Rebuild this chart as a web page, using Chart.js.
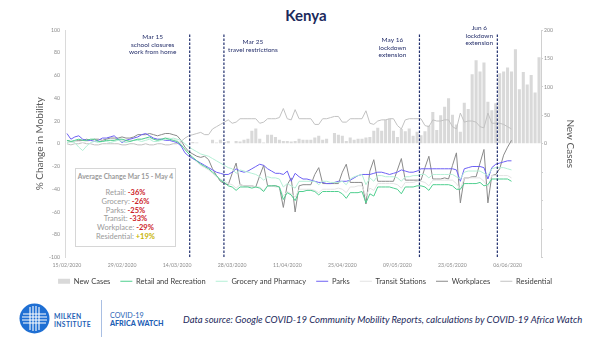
<!DOCTYPE html>
<html>
<head>
<meta charset="utf-8">
<script src="https://cdn.jsdelivr.net/npm/chart.js@4.4.0/dist/chart.umd.min.js"></script>
<style>
  body { margin: 0; background: #fff; font-family: Lato, sans-serif; }
  #wrap { position: relative; width: 600px; height: 337px; overflow: hidden; background: #fff; }
  #chart { position: absolute; left: 0; top: 0; }
  #title { position: absolute; left: 206px; top: 6px; width: 200px; text-align: center;
    font: bold 15px Lato; color: #1c2a5c; }
  #avgBox { position: absolute; left: 75px; top: 168px; width: 99px; height: 77px;
    border: 1px solid #d6d6d6; background: #fff; text-align: center; color: #9a9a9a; }
  #avgBox .head { font: bold 6.7px Lato; margin-top: 3px; margin-bottom: 9px; }
  #avgBox .row { font: 7.5px Lato; line-height: 8.8px; }
  #avgBox .row b { color: #cc2229; }
  #avgBox .row b.pos { color: #c6b300; }
  .ft { position: absolute; white-space: nowrap; }
  #logo { left: 19px; top: 303px; }
  #milken { left: 54px; top: 313px; font: bold 6.8px Lato; color: #1f5fb5; line-height: 7.5px; letter-spacing: 0.3px; }
  #sep { left: 101px; top: 300px; width: 1px; height: 37px; background: #a9bfe3; }
  #watch { left: 110px; top: 312px; font: 7.2px Lato; color: #1f5fb5; line-height: 7.5px; }
  #watch b { font-weight: 900; }
  #source { left: 183px; top: 314px; font: italic 9.5px Lato; color: #1d2a5c; }
</style>
</head>
<body>
<div id="wrap">
  <div id="title">Kenya</div>
  <canvas id="chart" width="600" height="295"></canvas>
  <div id="avgBox"></div>
  <svg id="logo" class="ft" width="31" height="31" viewBox="0 0 31 31">
    <circle cx="15.5" cy="15.5" r="15" fill="#1f6fd3"/>
    <g stroke="#fff" stroke-width="1.1" fill="none">
      <path d="M11 4v23M14 3v25M17 3v25M20 4v23"/>
      <path d="M4 11h23M3 14h25M3 17h25M4 20h23"/>
    </g>
  </svg>
  <div id="milken" class="ft">MILKEN<br>INSTITUTE</div>
  <div id="sep" class="ft"></div>
  <div id="watch" class="ft">COVID-19<br><b>AFRICA WATCH</b></div>
  <div id="source" class="ft">Data source: Google COVID-19 Community Mobility Reports, calculations by COVID-19 Africa Watch</div>
</div>
<script>
// daily categories, 15/02/2020 -> 14/06/2020
var firstDay = Date.UTC(2020, 1, 15)
var dayCount = 121
var tickEvery = 14

// google mobility, % change from baseline (15/02 -> 07/06)
var retail = [3,2,3,4,3,3,4, 4,2,2,3,3,3,4, 4,3,2,3,4,4,5, 6,4,3,4,5,4,3, 2,
  -1,-5,-9,-12,-15,-18,-20,-22,-25,-28,-32,-34,-37,
  -38,-41,-38,-38,-38,-39,-38, -39,-42,-37,-37,-37,-38,-49, -43,-45,-50,-42,-42,-41,-41,
  -42,-45,-42,-42,-42,-42,-42, -44,-48,-43,-43,-43,-42,-52, -44,-46,-38,-38,-38,-38,-39,
  -40,-44,-38,-38,-38,-37,-37, -38,-41,-36,-36,-36,-36,-36, -37,-40,-40,-35,-35,-35,-35,
  -34,-37,-36,-31,-31,-31,-31, -31,-33]
var grocery = [1,2,1,-3,-6,-2,1, 2,1,2,2,1,2,3, 2,1,2,3,3,2,3, 4,2,2,3,4,4,5, 4,
  3,0,-3,-5,-7,-9,-10,-11,-13,-15,-17,-19,-21,
  -22,-26,-23,-24,-25,-26,-27, -29,-32,-29,-30,-30,-31,-38, -35,-37,-39,-33,-33,-33,-33,
  -33,-36,-33,-33,-34,-34,-34, -33,-36,-31,-29,-28,-27,-36, -30,-33,-28,-28,-29,-29,-29,
  -30,-33,-29,-29,-28,-28,-27, -27,-30,-27,-27,-27,-27,-27, -27,-29,-31,-25,-24,-24,-24,
  -24,-26,-28,-22,-21,-21,-21, -22,-23]
var parks = [9,4,6,7,4,3,3, 2,3,5,5,6,7,4, 1,3,4,5,6,8,9, 7,5,4,4,3,3,2, 1,
  -2,-8,-11,-13,-15,-17,-19,-21,-23,-25,-26,-27,-27,
  -25,-22,-24,-25,-24,-22,-20, -18,-19,-22,-24,-26,-26,-27, -24,-33,-26,-29,-31,-31,-32,
  -33,-34,-34,-35,-35,-34,-33, -33,-33,-32,-30,-28,-27,-27, -27,-26,-25,-25,-26,-27,-26,
  -25,-23,-24,-25,-25,-24,-22, -22,-22,-22,-22,-22,-22,-22, -22,-23,-33,-22,-21,-20,-20,
  -20,-21,-31,-21,-18,-17,-16, -15,-15]
var transit = [2,1,2,2,1,2,3, 3,2,2,3,3,3,4, 3,2,3,3,4,4,5, 5,4,4,4,5,5,4, 3,
  0,-5,-9,-13,-16,-19,-21,-23,-26,-29,-31,-33,-35,
  -36,-39,-36,-37,-37,-37,-38, -38,-41,-37,-37,-38,-38,-46, -42,-44,-47,-40,-40,-40,-40,
  -41,-43,-40,-40,-40,-40,-39, -40,-43,-38,-38,-37,-37,-46, -39,-41,-35,-35,-35,-35,-35,
  -36,-39,-34,-34,-34,-33,-33, -34,-37,-32,-32,-32,-32,-32, -32,-35,-40,-30,-30,-30,-30,
  -30,-33,-38,-28,-28,-28,-28, -28,-30]
var workplaces = [3,2,2,3,3,4,3, 4,4,3,4,5,5,5, 6,5,5,6,8,8,8, 9,8,7,8,9,9,8, 7,
  3,-3,-7,-9,-11,-12,-11,-14,-22,-28,-33,-35,-36,
  -26,-17,-36,-37,-37,-37,-38, -28,-19,-37,-37,-37,-38,-56, -36,-30,-60,-37,-36,-36,-36,
  -27,-21,-35,-35,-35,-35,-35, -25,-18,-34,-34,-34,-34,-53, -24,-14,-33,-33,-33,-33,-33,
  -23,-13,-32,-32,-32,-32,-32, -21,-11,-31,-31,-31,-30,-31, -19,-8,-52,-30,-30,-29,-29,
  -17,-5,-52,-28,-27,-22,-10, -3,3]
var residential = [0,-1,0,0,1,0,0, -1,-1,0,0,0,0,0, -1,-1,0,0,-1,-1,0, -1,-1,0,0,-1,-1,0, 0,
  2,5,7,8,9,10,8,8,13,15,17,19,21,
  18,19,22,22,22,22,22, 18,19,22,22,22,23,31, 22,21,30,22,22,22,22,
  17,17,22,22,23,24,24, 19,19,22,22,22,22,29, 18,17,20,21,21,22,22,
  16,13,21,22,22,22,22, 16,15,21,20,20,21,21, 15,13,27,19,20,20,19,
  15,14,27,18,18,18,17, 15,13]

// new cases per day (15/02 -> 14/06)
var newCases = [0,0,0,0,0,0,0, 0,0,0,0,0,0,0, 0,0,0,0,0,0,0, 0,0,0,0,0,0,1, 0,
  2,0,1,3,2,0,0,1,7,2,7,3,5,
  1,5,4,7,9,23,27, 9,2,16,16,12,7,5, 5,4,5,9,7,7,7,
  11,14,7,9,0,19,16, 14,5,11,7,9,9,11, 12,23,28,23,42,44,23,
  12,26,22,27,14,21,15, 22,32,56,24,50,65,80, 51,34,21,72,61,122,147,
  127,143,74,59,71,124,127, 134,127,166,96,126,104,121, 90,152]

// policy markers (day offset from 15/02 as placed on the chart)
var eventDay = [31.2, 39.9, 89.6, 109.4]
var eventText = [['Mar 15', 'school closures', 'work from home'], ['Mar 25', 'travel restrictions'],
  ['May 16', 'lockdown', 'extension'], ['Jun 6', 'lockdown', 'extension']]

var statNames = ['Retail', 'Grocery', 'Parks', 'Transit', 'Workplace', 'Residential']
var statValues = [-36, -26, -25, -33, -29, 19]

var dates = []
for (let i = 0; i < dayCount; i++) {
  let d = new Date(firstDay + i * 86400000)
  dates.push(String(d.getUTCDate()).padStart(2, '0') + '/' + String(d.getUTCMonth() + 1).padStart(2, '0') + '/' + d.getUTCFullYear())
}

// stats box
var box = '<div class="head">Average Change Mar 15 - May 4</div>'
statNames.forEach((n, i) => {
  let v = statValues[i]
  box += '<div class="row">' + n + ': <b' + (v > 0 ? ' class="pos"' : '') + '>' + (v > 0 ? '+' : '') + v + '%</b></div>'
})
document.getElementById('avgBox').innerHTML = box

var noteStyle = { dx: [-37, 29, -27, -18], y: [37, 42, 40, 28] }

const markers = {
  id: 'markers',
  afterDatasetsDraw(chart) {
    const { ctx, chartArea, scales } = chart
    ctx.save()
    eventDay.forEach((d, i) => {
      const x = scales.x.getPixelForValue(d)
      ctx.strokeStyle = '#22306e'
      ctx.lineWidth = 1.2
      ctx.setLineDash([2.5, 1.5])
      ctx.beginPath()
      ctx.moveTo(x, scales.y.getPixelForValue(96))
      ctx.lineTo(x, chartArea.bottom)
      ctx.stroke()
      ctx.setLineDash([])
      ctx.fillStyle = '#26306b'
      ctx.font = '6.5px Lato'
      ctx.textAlign = 'center'
      ctx.textBaseline = 'middle'
      eventText[i].forEach((t, j) => ctx.fillText(t, x + noteStyle.dx[i], noteStyle.y[i] + j * 7.7))
    })
    ctx.restore()
  }
}

function line (label, data, color) {
  return { type: 'line', label: label, data: data, borderColor: color, backgroundColor: color,
    borderWidth: 1, pointRadius: 0, tension: 0, yAxisID: 'y', order: 0, pointStyle: 'line' }
}

Chart.defaults.font.family = 'Lato'
const tickColor = '#8c8c8c'

new Chart(document.getElementById('chart'), {
  data: {
    labels: dates,
    datasets: [
      { type: 'bar', label: 'New Cases', data: newCases, backgroundColor: '#d9d9d9', yAxisID: 'y2',
        barPercentage: 0.78, categoryPercentage: 1, order: 1, pointStyle: 'rect' },
      line('Retail and Recreation', retail, '#4fcf8f'),
      line('Grocery and Pharmacy', grocery, '#b4f0d6'),
      line('Parks', parks, '#6d60f4'),
      line('Transit Stations', transit, '#e3e3e3'),
      line('Workplaces', workplaces, '#8a8a8a'),
      line('Residential', residential, '#c2c2c2')
    ]
  },
  options: {
    responsive: false,
    animation: false,
    devicePixelRatio: 1,
    layout: { padding: { top: 30, left: 30, right: 20, bottom: 0 } },
    plugins: {
      tooltip: { enabled: false },
      legend: {
        position: 'bottom',
        labels: { usePointStyle: true, pointStyleWidth: 12, boxHeight: 5, padding: 10,
          color: '#404040', font: { size: 7.5 },
          sort: (a, b) => a.datasetIndex - b.datasetIndex }
      }
    },
    scales: {
      x: {
        offset: true,
        grid: { display: false, drawTicks: false },
        border: { display: false },
        ticks: { autoSkip: false, maxRotation: 0, padding: 5, color: tickColor, font: { size: 5.2 },
          callback: function (v, i) { return i % tickEvery === 0 ? this.getLabelForValue(v) : '' } },
        afterFit: s => { s.height = 10 }
      },
      y: {
        position: 'left', min: -100, max: 100,
        grid: { display: false, drawTicks: false },
        border: { color: '#dadada' },
        ticks: { stepSize: 20, padding: 5, color: tickColor, font: { size: 5.2 } },
        title: { display: true, text: '% Change in Mobility', color: '#595959', font: { size: 10 } },
        afterFit: s => { s.width = 35 }
      },
      y2: {
        position: 'right', min: -200, max: 200,
        grid: { drawOnChartArea: false, tickLength: 2, color: '#d0d0d0' },
        border: { color: '#d0d0d0' },
        ticks: { stepSize: 50, padding: 1, color: tickColor, font: { size: 5.2 },
          callback: v => v >= 0 ? v : '' },
        title: { display: true, text: 'New Cases', color: '#595959', font: { size: 10 } },
        afterFit: s => { s.width = 39 }
      }
    }
  },
  plugins: [markers]
})
</script>
</body>
</html>
